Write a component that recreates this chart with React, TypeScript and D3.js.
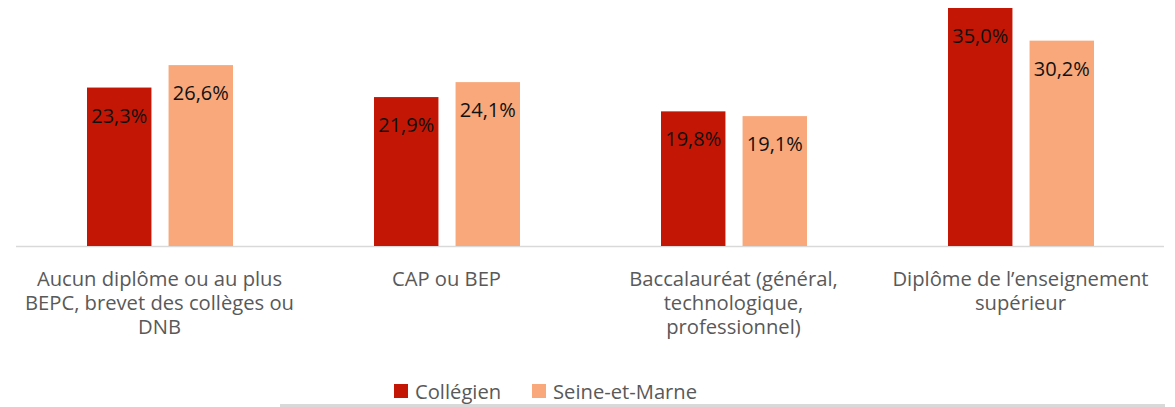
import React, { useRef, useEffect } from 'react';
import * as d3 from 'd3';

const categories = [
  ['Aucun diplôme ou au plus', 'BEPC, brevet des collèges ou', 'DNB'],
  ['CAP ou BEP'],
  ['Baccalauréat (général,', 'technologique,', 'professionnel)'],
  ['Diplôme de l’enseignement', 'supérieur'],
];
const seriesNames = ['Collégien', 'Seine-et-Marne'];
const collegien = [23.3, 21.9, 19.8, 35.0];
const seineEtMarne = [26.6, 24.1, 19.1, 30.2];
const colors = ['#c41604', '#f8a87b'];

function App() {
  const svgRef = useRef<SVGSVGElement>(null);

  useEffect(() => {
    const svg = d3.select(svgRef.current);
    svg.selectAll('*').remove();

    const w = 1175;
    const h = 407;
    const base = 246;
    const font = '"Open Sans", Lato, sans-serif';

    const x = d3.scaleBand().domain(d3.range(4).map(String)).range([16, 1164]);
    const xs = d3.scaleBand().domain(['0', '1']).range([71, 217]).paddingInner(0.21);
    const y = d3.scaleLinear().domain([0, 35]).range([base, 8]);

    const series = [collegien, seineEtMarne];

    // baseline
    svg.append('line')
      .attr('x1', 16).attr('x2', 1164)
      .attr('y1', base + 0.5).attr('y2', base + 0.5)
      .attr('stroke', '#d9d9d9').attr('stroke-width', 1.5);

    series.forEach((vals, si) => {
      const g = svg.append('g');
      g.selectAll('rect')
        .data(vals)
        .join('rect')
        .attr('x', (d, i) => x(String(i))! + xs(String(si))!)
        .attr('y', d => y(d))
        .attr('width', xs.bandwidth())
        .attr('height', d => base - y(d))
        .attr('fill', colors[si]);

      g.selectAll('text')
        .data(vals)
        .join('text')
        .attr('x', (d, i) => x(String(i))! + xs(String(si))! + xs.bandwidth() / 2)
        .attr('y', d => y(d) + 35)
        .attr('text-anchor', 'middle')
        .style('font-family', font)
        .style('font-size', '20px')
        .attr('fill', '#111')
        .text(d => d.toFixed(1).replace('.', ',') + '%');
    });

    // category labels, one text per category with a tspan per line
    svg.append('g')
      .selectAll('text')
      .data(categories)
      .join('text')
      .attr('text-anchor', 'middle')
      .style('font-family', font)
      .style('font-size', '20.2px')
      .attr('fill', '#595959')
      .each(function (lines, i) {
        const cx = x(String(i))! + x.bandwidth() / 2;
        d3.select(this).selectAll('tspan')
          .data(lines)
          .join('tspan')
          .attr('x', cx)
          .attr('y', (d, li) => 285.5 + li * 24.3)
          .text(d => d);
      });

    // legend
    const legendX = [394, 532];
    seriesNames.forEach((name, i) => {
      svg.append('rect')
        .attr('x', legendX[i]).attr('y', 384)
        .attr('width', 14).attr('height', 14)
        .attr('fill', colors[i]);
      svg.append('text')
        .attr('x', legendX[i] + 21).attr('y', 399)
        .style('font-family', font)
        .style('font-size', '20.2px')
        .attr('fill', '#595959')
        .text(name);
    });

    // bottom border line
    svg.append('line')
      .attr('x1', 280).attr('x2', 1165)
      .attr('y1', 405.5).attr('y2', 405.5)
      .attr('stroke', '#d9d9d9').attr('stroke-width', 3);

    svg.attr('width', w).attr('height', h);
  }, []);

  return (
    <svg ref={svgRef} style={{ position: 'absolute', left: 0, top: 0, background: '#fff' }} />
  );
}

export default App;
